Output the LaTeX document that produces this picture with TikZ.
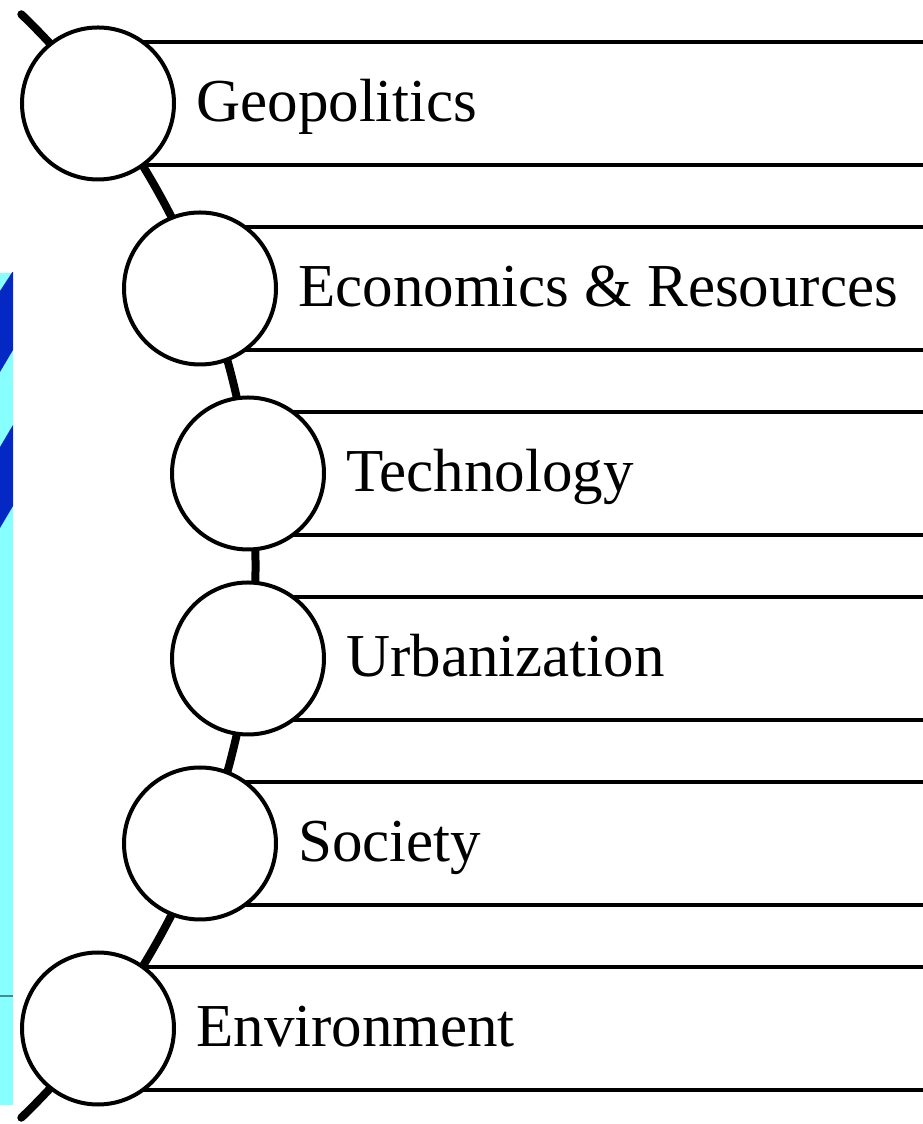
\documentclass[tikz,border=0pt]{standalone}
\usepackage{fontspec}
\setmainfont{Liberation Serif}
\definecolor{stripcyan}{RGB}{136,255,255}
\definecolor{stripblue}{RGB}{4,40,196}
\definecolor{stripline}{RGB}{70,140,140}
\tikzset{
  spineline/.style={line width=4pt, line cap=round},
  bandbox/.style={line width=2pt, fill=white},
  ballnode/.style={circle, draw, line width=2pt, fill=white, minimum size=76pt, inner sep=0pt},
  labeltext/.style={anchor=base west, inner sep=0pt, font=\fontsize{30.5pt}{36pt}\selectfont},
}
\begin{document}
\begin{tikzpicture}[x=0.5pt,y=0.5pt]
\useasboundingbox (0,0) rectangle (922,1124);
% left strip
\begin{scope}
\clip (0,19) rectangle (13,851);
\fill[stripcyan] (0,19) rectangle (13,851);
\fill[stripblue] (0,833) -- (13,853) -- (13,774) -- (0,752) -- cycle;
\fill[stripblue] (0,677) -- (13,699) -- (13,618) -- (0,596) -- cycle;
\draw[stripline, line width=0.6pt] (0,128) -- (13,128);
\end{scope}
% spine
\coordinate (arccenter) at (-511.5,558);
\draw[spineline] (arccenter) ++(46:383.5pt) arc[start angle=46, end angle=-46, radius=383.5pt];
% bands, circles, labels
\foreach \i/\cx/\txt in {1/98/Geopolitics, 2/200/Economics \& Resources, 3/248/Technology, 4/248/Urbanization, 5/200/Society, 6/98/Environment}{
  \pgfmathsetmacro{\ctop}{1082-185*(\i-1)}
  \pgfmathsetmacro{\cbot}{959-185*(\i-1)}
  \pgfmathsetmacro{\cmid}{1020.5-185*(\i-1)}
  \draw[bandbox] (\cx,\cbot) rectangle (932,\ctop);
  \node[ballnode] (c\i) at (\cx,\cmid) {};
  \node[labeltext] (t\i) at (\cx+98,\cmid-18.5) {\txt};
}
\end{tikzpicture}
\end{document}
